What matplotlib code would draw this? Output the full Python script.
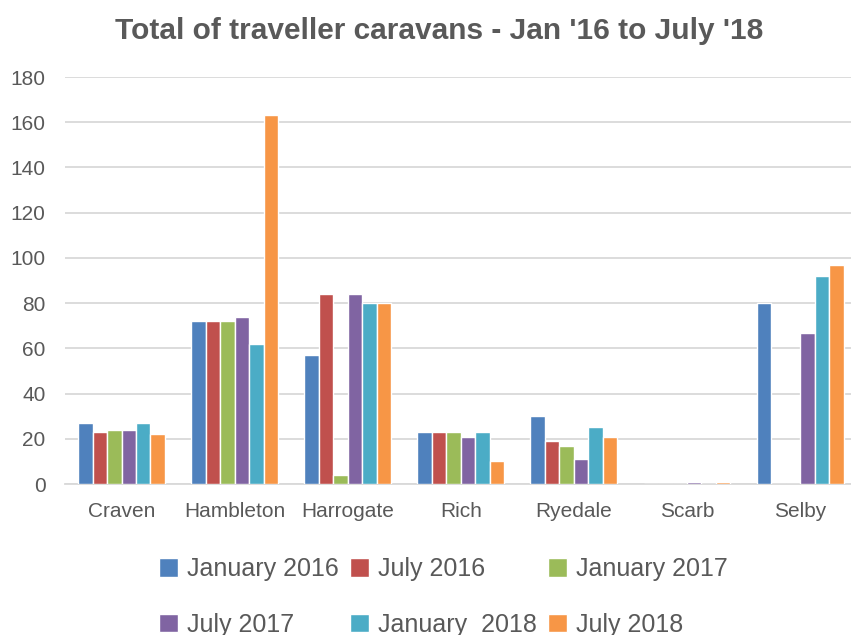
import numpy as np
import matplotlib.pyplot as plt

plt.rcParams['font.family'] = ['Liberation Sans', 'DejaVu Sans']

districts = ['Craven', 'Hambleton', 'Harrogate', 'Rich', 'Ryedale', 'Scarb', 'Selby']
periods = ['January 2016', 'July 2016', 'January 2017',
           'July 2017', 'January  2018', 'July 2018']

jan_2016 = [27, 72, 57, 23, 30, 0, 80]
jul_2016 = [23, 72, 84, 23, 19, 0, 0]
jan_2017 = [24, 72, 4, 23, 17, 0, 0]
jul_2017 = [24, 74, 84, 21, 11, 1, 67]
jan_2018 = [27, 62, 80, 23, 25, 0, 92]
jul_2018 = [22, 163, 80, 10, 21, 1, 97]

series = [jan_2016, jul_2016, jan_2017, jul_2017, jan_2018, jul_2018]
colors = ['#4F81BD', '#C0504D', '#9BBB59', '#8064A2', '#4BACC6', '#F79646']
text_col = '#595959'

fig = plt.figure(figsize=(8.51, 6.35), dpi=100)
ax = fig.add_axes([65 / 851, 1 - 484 / 635, 786 / 851, 407 / 635])

x = np.arange(len(districts))
slot = 0.128
for i, (vals, col, lab) in enumerate(zip(series, colors, periods)):
    ax.bar(x + (i - 2.5) * slot, vals, width=slot, color=col,
           edgecolor='white', linewidth=1, label=lab, zorder=3)

ax.set_ylim(0, 180)
ax.set_xlim(-0.5, 6.45)
ax.set_yticks(range(0, 181, 20))
ax.set_xticks(x)
ax.set_xticklabels(districts, fontsize=15.5)
ax.grid(axis='y', color='#D9D9D9', linewidth=1.3, zorder=0)
for s in ['top', 'right', 'left']:
    ax.spines[s].set_visible(False)
ax.spines['bottom'].set_color('#D9D9D9')
ax.spines['bottom'].set_linewidth(1.3)
ax.tick_params(length=0, labelsize=15, colors=text_col)
ax.tick_params(axis='y', pad=14)
ax.tick_params(axis='x', pad=13)

fig.text(439 / 851, 1 - 31 / 635, "Total of traveller caravans - Jan '16 to July '18",
         ha='center', va='center', fontsize=21.5, fontweight='bold', color=text_col)

# legend is filled column by column, so reorder to read across rows
handles, labels = ax.get_legend_handles_labels()
order = [0, 3, 1, 4, 2, 5]
leg = fig.legend([handles[k] for k in order], [labels[k] for k in order],
                 loc='upper left', bbox_to_anchor=(159 / 851, 1 - 557 / 635), ncol=3,
                 frameon=False, fontsize=18, handlelength=0.76, handleheight=0.76,
                 handletextpad=0.36, columnspacing=0.45, labelspacing=1.27,
                 borderpad=0, borderaxespad=0)
for t in leg.get_texts():
    t.set_color(text_col)

fig.savefig('out.png', dpi=100)
